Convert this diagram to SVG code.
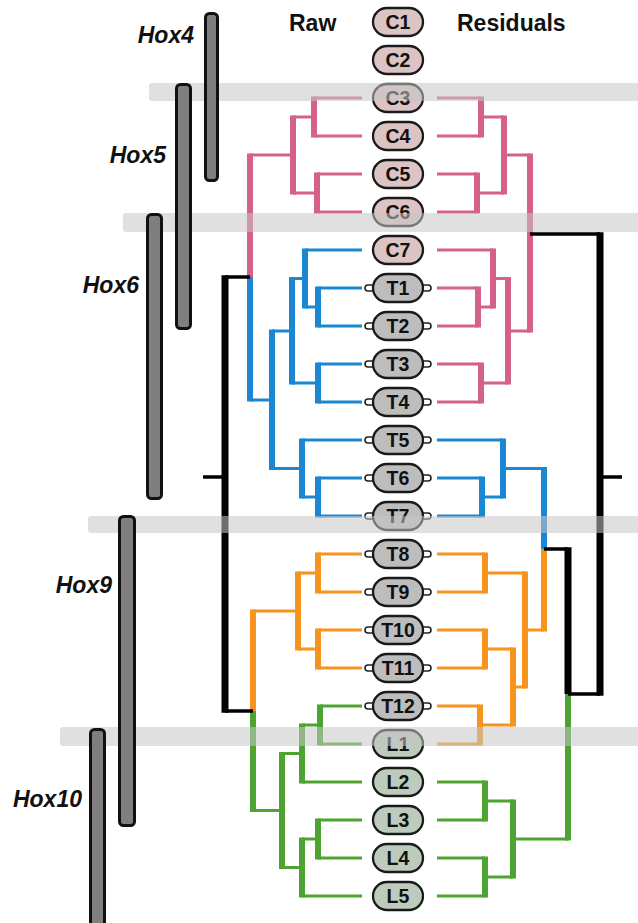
<svg xmlns="http://www.w3.org/2000/svg" width="638" height="923" viewBox="0 0 638 923">
<style>
.h{fill:none;stroke-width:3}
.v{fill:none;stroke-width:6}
.pk{stroke:#d6608c}.bl{stroke:#1b87d3}.or{stroke:#f7941d}.gr{stroke:#4da431}.bk{stroke:#000}
.bkv{fill:none;stroke:#000;stroke-width:7}
.bkh{fill:none;stroke:#000;stroke-width:3.5}
.pill{stroke:#1a1a1a;stroke-width:2.3}
.c{fill:#dcc4c4}.t{fill:#bdbdbd}.l{fill:#bccbbb}
.lab{font-family:"Liberation Sans",Arial,sans-serif;font-weight:bold;font-size:19.5px;text-anchor:middle;fill:#111}
.tab{fill:none;stroke:#222;stroke-width:1.6}
.band{fill:#c6c6c6;opacity:0.55}
.hox{fill:#7f7f7f;stroke:#111;stroke-width:3}
.hl{font-family:"Liberation Sans",Arial,sans-serif;font-weight:bold;font-style:italic;font-size:23px;text-anchor:end;fill:#111}
.hd{font-family:"Liberation Sans",Arial,sans-serif;font-weight:bold;font-size:23px;fill:#111}
</style>
<g id="connectors">
<g id="raw-tree">
<path class="h pk" d="M314,98H362M314,136H362M317,174H362M317,212H362M293,117H314M293,193H317M250,155H293"/>
<path class="v pk" d="M314,96.5V137.5M317,172.5V213.5M293,115.5V194.5M250,153.5V277"/>
<path class="h bl" d="M305,250H362M318,288H362M318,326H362M305,307H318M318,364H362M318,402H362M292,278.5H305M292,383H318M272,331H292M302,440H362M318,478H362M318,516H362M302,497H318M272,468.5H302M250,400H272"/>
<path class="v bl" d="M318,286.5V327.5M305,248.5V308.5M318,362.5V403.5M292,277V384.5M318,476.5V517.5M302,438.5V498.5M272,329.5V470M250,277V401.5"/>
<path class="h or" d="M318,554H362M318,592H362M318,630H362M318,668H362M298,573H318M298,649H318M253,611H298"/>
<path class="v or" d="M318,552.5V593.5M318,628.5V669.5M298,571.5V650.5M253,609.5V711"/>
<path class="h gr" d="M320,706H362M320,744H362M302,725H320M302,782H362M318,820H362M318,858H362M302,839H318M302,896H362M282,753.5H302M282,867.5H302M253,810.5H282"/>
<path class="v gr" d="M320,704.5V745.5M302,723.5V783.5M318,818.5V859.5M302,837.5V897.5M282,752V869M253,711V812"/>
<path class="bkh" d="M225,277H250M225,711H253M203,477H225"/>
<path class="bkv" d="M225,275.3V712.7"/>
</g>
<g id="residual-tree">
<path class="h pk" d="M437,98H481M437,136H481M437,174H477M437,212H477M481,117H504M477,193H504M504,155H530M437,250H493M437,288H478M437,326H478M478,307H493M437,364H481M437,402H481M493,278.5H508M481,383H508M508,331H530"/>
<path class="v pk" d="M481,96.5V137.5M477,172.5V213.5M504,115.5V194.5M478,286.5V327.5M493,248.5V308.5M481,362.5V403.5M508,277V384.5M530,153.5V332.5"/>
<path class="h bl" d="M437,440H503M437,478H482M437,516H482M482,497H503M503,468.5H544"/>
<path class="v bl" d="M482,476.5V517.5M503,438.5V498.5M544,467V549"/>
<path class="h or" d="M437,554H485M437,592H485M437,630H485M437,668H485M437,706H480M437,744H480M480,725H513M485,649H513M485,573H525M513,687H525M525,630H544"/>
<path class="v or" d="M485,552.5V593.5M485,628.5V669.5M480,704.5V745.5M513,647.5V726.5M525,571.5V688.5M544,549V631.5"/>
<path class="h gr" d="M437,782H485M437,820H485M437,858H485M437,896H485M485,801H513M485,877H513M513,839H568"/>
<path class="v gr" d="M485,780.5V821.5M485,856.5V897.5M513,799.5V878.5M568,694V840.5"/>
<path class="bkh" d="M544,549H568M530,234H600M568,694H600M600,477H622"/>
<path class="bkv" d="M568,547.3V694"/>
<path class="bkv" d="M600,232.3V695.7"/>
</g>
</g>
<g id="nodes">
<g id="node-C1"><rect class="pill c" x="373" y="8" width="50" height="28" rx="14"/><text class="lab" x="398" y="29">C1</text></g>
<g id="node-C2"><rect class="pill c" x="373" y="46" width="50" height="28" rx="14"/><text class="lab" x="398" y="67">C2</text></g>
<g id="node-C3"><rect class="pill c" x="373" y="84" width="50" height="28" rx="14"/><text class="lab" x="398" y="105">C3</text></g>
<g id="node-C4"><rect class="pill c" x="373" y="122" width="50" height="28" rx="14"/><text class="lab" x="398" y="143">C4</text></g>
<g id="node-C5"><rect class="pill c" x="373" y="160" width="50" height="28" rx="14"/><text class="lab" x="398" y="181">C5</text></g>
<g id="node-C6"><rect class="pill c" x="373" y="198" width="50" height="28" rx="14"/><text class="lab" x="398" y="219">C6</text></g>
<g id="node-C7"><rect class="pill c" x="373" y="236" width="50" height="28" rx="14"/><text class="lab" x="398" y="257">C7</text></g>
<g id="node-T1"><path class="tab" d="M373,285h-5a3,3 0 0 0 0,6h5M423,285h5a3,3 0 0 1 0,6h-5"/><rect class="pill t" x="373" y="274" width="50" height="28" rx="14"/><text class="lab" x="398" y="295">T1</text></g>
<g id="node-T2"><path class="tab" d="M373,323h-5a3,3 0 0 0 0,6h5M423,323h5a3,3 0 0 1 0,6h-5"/><rect class="pill t" x="373" y="312" width="50" height="28" rx="14"/><text class="lab" x="398" y="333">T2</text></g>
<g id="node-T3"><path class="tab" d="M373,361h-5a3,3 0 0 0 0,6h5M423,361h5a3,3 0 0 1 0,6h-5"/><rect class="pill t" x="373" y="350" width="50" height="28" rx="14"/><text class="lab" x="398" y="371">T3</text></g>
<g id="node-T4"><path class="tab" d="M373,399h-5a3,3 0 0 0 0,6h5M423,399h5a3,3 0 0 1 0,6h-5"/><rect class="pill t" x="373" y="388" width="50" height="28" rx="14"/><text class="lab" x="398" y="409">T4</text></g>
<g id="node-T5"><path class="tab" d="M373,437h-5a3,3 0 0 0 0,6h5M423,437h5a3,3 0 0 1 0,6h-5"/><rect class="pill t" x="373" y="426" width="50" height="28" rx="14"/><text class="lab" x="398" y="447">T5</text></g>
<g id="node-T6"><path class="tab" d="M373,475h-5a3,3 0 0 0 0,6h5M423,475h5a3,3 0 0 1 0,6h-5"/><rect class="pill t" x="373" y="464" width="50" height="28" rx="14"/><text class="lab" x="398" y="485">T6</text></g>
<g id="node-T7"><path class="tab" d="M373,513h-5a3,3 0 0 0 0,6h5M423,513h5a3,3 0 0 1 0,6h-5"/><rect class="pill t" x="373" y="502" width="50" height="28" rx="14"/><text class="lab" x="398" y="523">T7</text></g>
<g id="node-T8"><path class="tab" d="M373,551h-5a3,3 0 0 0 0,6h5M423,551h5a3,3 0 0 1 0,6h-5"/><rect class="pill t" x="373" y="540" width="50" height="28" rx="14"/><text class="lab" x="398" y="561">T8</text></g>
<g id="node-T9"><path class="tab" d="M373,589h-5a3,3 0 0 0 0,6h5M423,589h5a3,3 0 0 1 0,6h-5"/><rect class="pill t" x="373" y="578" width="50" height="28" rx="14"/><text class="lab" x="398" y="599">T9</text></g>
<g id="node-T10"><path class="tab" d="M373,627h-5a3,3 0 0 0 0,6h5M423,627h5a3,3 0 0 1 0,6h-5"/><rect class="pill t" x="373" y="616" width="50" height="28" rx="14"/><text class="lab" x="398" y="637">T10</text></g>
<g id="node-T11"><path class="tab" d="M373,665h-5a3,3 0 0 0 0,6h5M423,665h5a3,3 0 0 1 0,6h-5"/><rect class="pill t" x="373" y="654" width="50" height="28" rx="14"/><text class="lab" x="398" y="675">T11</text></g>
<g id="node-T12"><path class="tab" d="M373,703h-5a3,3 0 0 0 0,6h5M423,703h5a3,3 0 0 1 0,6h-5"/><rect class="pill t" x="373" y="692" width="50" height="28" rx="14"/><text class="lab" x="398" y="713">T12</text></g>
<g id="node-L1"><rect class="pill l" x="373" y="730" width="50" height="28" rx="14"/><text class="lab" x="398" y="751">L1</text></g>
<g id="node-L2"><rect class="pill l" x="373" y="768" width="50" height="28" rx="14"/><text class="lab" x="398" y="789">L2</text></g>
<g id="node-L3"><rect class="pill l" x="373" y="806" width="50" height="28" rx="14"/><text class="lab" x="398" y="827">L3</text></g>
<g id="node-L4"><rect class="pill l" x="373" y="844" width="50" height="28" rx="14"/><text class="lab" x="398" y="865">L4</text></g>
<g id="node-L5"><rect class="pill l" x="373" y="882" width="50" height="28" rx="14"/><text class="lab" x="398" y="903">L5</text></g>
</g>
<g id="bands">
<rect class="band" x="149" y="83" width="500" height="18" rx="3"/>
<rect class="band" x="123" y="213" width="530" height="19" rx="3"/>
<rect class="band" x="88" y="516" width="560" height="17" rx="3"/>
<rect class="band" x="60" y="727" width="590" height="19" rx="3"/>
</g>
<g id="hox-genes">
<g id="hox4"><rect class="hox" x="205.5" y="13.5" width="12" height="167" rx="4"/><text class="hl" x="194" y="43">Hox4</text></g>
<g id="hox5"><rect class="hox" x="176.5" y="84.5" width="14" height="244" rx="4"/><text class="hl" x="166" y="163">Hox5</text></g>
<g id="hox6"><rect class="hox" x="147.5" y="214.5" width="14" height="284" rx="4"/><text class="hl" x="139" y="293">Hox6</text></g>
<g id="hox9"><rect class="hox" x="119.5" y="516.5" width="15" height="309" rx="4"/><text class="hl" x="112" y="593">Hox9</text></g>
<g id="hox10"><rect class="hox" x="90.5" y="729.5" width="14" height="210" rx="4"/><text class="hl" x="82" y="807">Hox10</text></g>
</g>
<g id="headers">
<text class="hd" x="289" y="31">Raw</text>
<text class="hd" x="457" y="31">Residuals</text>
</g>
</svg>
